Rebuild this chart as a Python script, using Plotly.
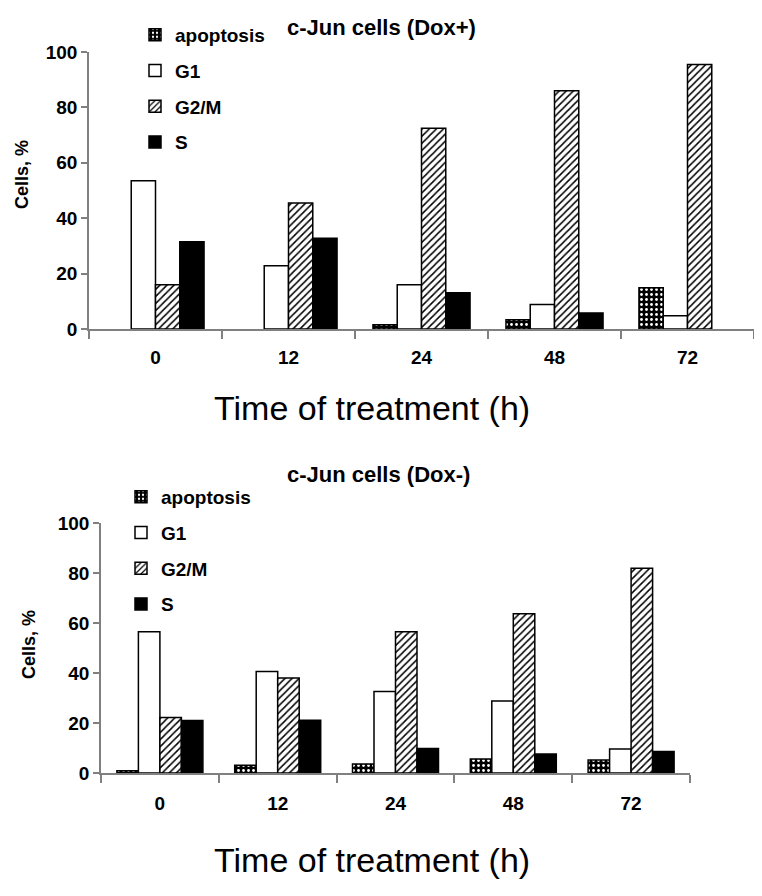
import plotly.graph_objects as go

times = ["0", "12", "24", "48", "72"]
phases = ["apoptosis", "G1", "G2/M", "S"]

# Dox+ (top panel); None = no bar visible
dox_plus_apoptosis = [None, None, 1.5, 3.3, 14.9]
dox_plus_g1 = [53.5, 22.8, 16.0, 8.8, 4.8]
dox_plus_g2m = [16.0, 45.5, 72.5, 86.0, 95.5]
dox_plus_s = [31.5, 32.8, 13.1, 5.8, None]

# Dox- (bottom panel)
dox_minus_apoptosis = [0.9, 3.1, 3.6, 5.6, 5.2]
dox_minus_g1 = [56.5, 40.6, 32.6, 28.8, 9.6]
dox_minus_g2m = [22.2, 38.0, 56.5, 63.7, 81.9]
dox_minus_s = [21.0, 21.1, 9.8, 7.6, 8.6]

OFF = 8  # page body margin
W, H = 762 - 2 * OFF, 896 - 2 * OFF
BOLD = "Liberation Sans"

def px_x(x):
    return min(max((x - OFF) / W, 0), 1)

def px_y(y):
    return min(max(1 - (y - OFF) / H, 0), 1)

styles = {
    "apoptosis": dict(color="black", pattern=dict(shape=".", fgcolor="white", bgcolor="black", size=5, solidity=0.25)),
    "G1": dict(color="white"),
    "G2/M": dict(color="white", pattern=dict(shape="/", fgcolor="black", bgcolor="white", size=5, solidity=0.3)),
    "S": dict(color="black"),
}

fig = go.Figure()

panels = [
    ("x", "y", "legend", [dox_plus_apoptosis, dox_plus_g1, dox_plus_g2m, dox_plus_s]),
    ("x2", "y2", "legend2", [dox_minus_apoptosis, dox_minus_g1, dox_minus_g2m, dox_minus_s]),
]
for xa, ya, lg, series in panels:
    for name, vals in zip(phases, series):
        st = styles[name]
        marker = dict(color=st["color"], line=dict(color="black", width=1.5))
        if "pattern" in st:
            marker["pattern"] = st["pattern"]
        fig.add_trace(go.Bar(
            x=times, y=vals, name=name, xaxis=xa, yaxis=ya, legend=lg,
            legendgroup=lg + name, marker=marker, hoverinfo="x+y+name",
        ))

axis_common = dict(
    showgrid=False, zeroline=False, showline=True, linecolor="#808080", linewidth=1.5,
    ticks="outside", tickcolor="#808080", tickwidth=1.5, automargin=False,
    tickfont=dict(family=BOLD, size=19, color="black", weight="bold"),
)

fig.update_layout(
    template="none",
    width=W, height=H, margin=dict(l=0, r=0, t=0, b=0, autoexpand=False),
    paper_bgcolor="white", plot_bgcolor="white",
    barmode="group", bargap=0.27, bargroupgap=0,
    showlegend=True,
    xaxis=dict(domain=[px_x(89), px_x(755)], anchor="y", type="category",
               tickson="boundaries", ticklen=8, ticklabelstandoff=10, **axis_common),
    yaxis=dict(domain=[px_y(329), px_y(52)], anchor="x", range=[0, 100],
               tickvals=[0, 20, 40, 60, 80, 100], ticklen=6, **axis_common),
    xaxis2=dict(domain=[px_x(101), px_x(690)], anchor="y2", type="category",
                tickson="boundaries", ticklen=8, ticklabelstandoff=12, **axis_common),
    yaxis2=dict(domain=[px_y(773), px_y(523)], anchor="x2", range=[0, 100],
                tickvals=[0, 20, 40, 60, 80, 100], ticklen=6, **axis_common),
    legend=dict(x=px_x(135), y=px_y(16), xanchor="left", yanchor="top",
                bgcolor="rgba(0,0,0,0)", tracegroupgap=8,
                font=dict(family=BOLD, size=19, color="black", weight="bold")),
    legend2=dict(x=px_x(121), y=px_y(478), xanchor="left", yanchor="top",
                 bgcolor="rgba(0,0,0,0)", tracegroupgap=8,
                 font=dict(family=BOLD, size=19, color="black", weight="bold")),
)

annotations = [
    dict(text="c-Jun cells (Dox+)", x=px_x(381), y=px_y(27), size=22, bold=True, angle=0),
    dict(text="c-Jun cells (Dox-)", x=px_x(378), y=px_y(474), size=22, bold=True, angle=0),
    dict(text="Cells, %", x=px_x(22), y=px_y(175), size=18, bold=True, angle=-90),
    dict(text="Cells, %", x=px_x(29), y=px_y(645), size=18, bold=True, angle=-90),
    dict(text="Time of treatment (h)", x=px_x(372), y=px_y(408), size=34, bold=False, angle=0),
    dict(text="Time of treatment (h)", x=px_x(372), y=px_y(860), size=34, bold=False, angle=0),
]
for a in annotations:
    fig.add_annotation(
        text=a["text"], x=a["x"], y=a["y"], xref="paper", yref="paper",
        xanchor="center", yanchor="middle", showarrow=False, textangle=a["angle"],
        font=dict(family=BOLD, size=a["size"], color="black",
                  weight="bold" if a["bold"] else "normal"),
    )

fig.write_html("out.html")
